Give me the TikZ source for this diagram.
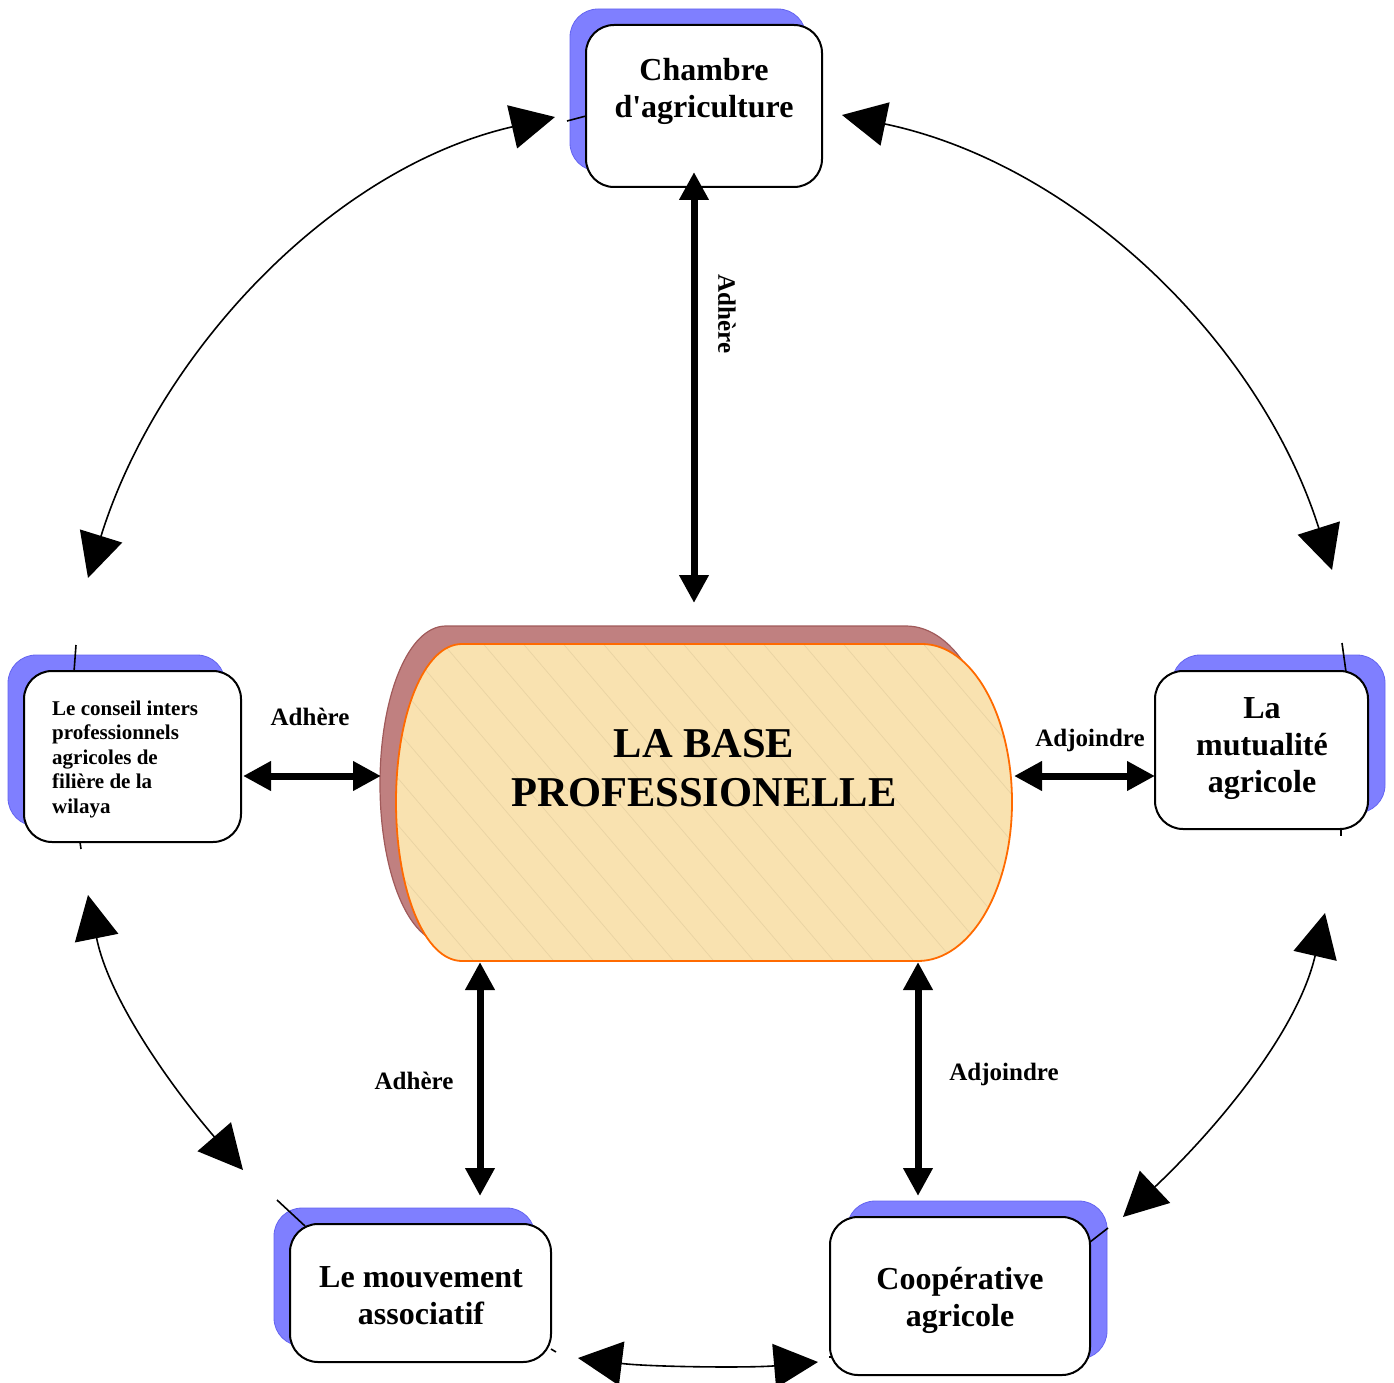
\documentclass[tikz,border=0pt]{standalone}
\usepackage{fontspec}
\setmainfont{Liberation Serif}[Ligatures=TeXOff]
\usetikzlibrary{arrows.meta}
\definecolor{shblue}{HTML}{7F7FFF}
\definecolor{shblueline}{HTML}{6464F0}
\definecolor{baseshadow}{HTML}{C08080}
\definecolor{baseshadowline}{HTML}{A05A5A}
\definecolor{basefill}{HTML}{F9E2B0}
\definecolor{baseedge}{HTML}{FF6A00}
\definecolor{hatchcol}{HTML}{E9D3A3}
\tikzset{
  shadowbox/.style={rectangle, rounded corners=28pt, fill=shblue, draw=shblueline, line width=0.8pt, inner sep=0pt},
  whitebox/.style={rectangle, rounded corners=28pt, fill=white, draw=black, line width=2pt, inner sep=0pt},
  boxtext/.style={font=\fontsize{32}{37}\selectfont\bfseries, align=center, inner sep=0pt},
  smalltext/.style={font=\fontsize{21}{24.5}\selectfont\bfseries, align=left, inner sep=0pt},
  lbl/.style={font=\fontsize{25}{30}\selectfont\bfseries, inner sep=0pt},
  thickarrow/.style={line width=7pt, {Triangle[length=28pt,width=28pt]}-{Triangle[length=28pt,width=28pt]}},
  bigtip/.tip={Triangle[length=44pt,width=44pt]},
  thinconn/.style={line width=1.6pt, bigtip-bigtip},
  stub/.style={line width=1.6pt},
}
\begin{document}
\begin{tikzpicture}[x=1pt,y=-1pt]
\useasboundingbox (0,0) rectangle (1394,1383);

% ---- box shadows
\node[shadowbox, minimum width=236pt, minimum height=162pt] (chs) at (688,90) {};
\node[shadowbox, minimum width=217pt, minimum height=171pt] (cos) at (116.5,740.5) {};
\node[shadowbox, minimum width=213pt, minimum height=158pt] (mus) at (1278.5,734) {};
\node[shadowbox, minimum width=261pt, minimum height=138pt] (mos) at (404.5,1277) {};
\node[shadowbox, minimum width=260pt, minimum height=158pt] (cps) at (977,1280) {};

% ---- stubs (connector remnants)
\coordinate (s1a) at (567,121); \coordinate (s1b) at (586,116);
\coordinate (s2a) at (76,645);  \coordinate (s2b) at (74,672);
\coordinate (s3a) at (1342,643); \coordinate (s3b) at (1346,672);
\coordinate (s4a) at (277,1200); \coordinate (s4b) at (305,1226);
\coordinate (s5a) at (1090,1242); \coordinate (s5b) at (1108,1228);
\coordinate (s6a) at (80,842); \coordinate (s6b) at (81,849);
\coordinate (s7a) at (1341,829); \coordinate (s7b) at (1341,836);
\coordinate (s8a) at (551,1349); \coordinate (s8b) at (556,1352);
\coordinate (s9a) at (829,1357); \coordinate (s9b) at (834,1357);
\foreach \s in {1,...,9} { \draw[stub] (s\s a) -- (s\s b); }

% ---- white boxes
\node[whitebox, minimum width=236pt, minimum height=162pt] (chambre) at (704,106) {};
\node[whitebox, minimum width=217pt, minimum height=171pt] (conseil) at (132.5,756.5) {};
\node[whitebox, minimum width=213pt, minimum height=158pt] (mutual) at (1261.5,750) {};
\node[whitebox, minimum width=261pt, minimum height=138pt] (mouv) at (420.5,1293) {};
\node[whitebox, minimum width=260pt, minimum height=158pt] (coop) at (960,1296) {};

% ---- box texts
\node[boxtext] (tchambre) at (704,91) {Chambre\\d'agriculture};
\node[smalltext, anchor=west] (tconseil) at (52,759) {Le conseil inters\\professionnels\\agricoles de\\filière de la\\wilaya};
\node[boxtext] (tmutual) at (1262,749) {La\\mutualité\\agricole};
\node[boxtext] (tmouv) at (421,1296) {Le mouvement\\associatif};
\node[boxtext] (tcoop) at (960,1300) {Coopérative\\agricole};

% ---- central shape
\path[fill=baseshadow, draw=baseshadowline, line width=1.2pt, shift={(-16,-18)}]
  (462,644) -- (922,644) .. controls (972,644) and (1012,715) .. (1012,802)
  .. controls (1012,890) and (970,961) .. (918,961) -- (462,961)
  .. controls (424,961) and (396,889) .. (396,802)
  .. controls (396,715) and (424,644) .. (462,644) -- cycle;
\path[fill=basefill]
  (462,644) -- (922,644) .. controls (972,644) and (1012,715) .. (1012,802)
  .. controls (1012,890) and (970,961) .. (918,961) -- (462,961)
  .. controls (424,961) and (396,889) .. (396,802)
  .. controls (396,715) and (424,644) .. (462,644) -- cycle;
\begin{scope}
  \clip (462,644) -- (922,644) .. controls (972,644) and (1012,715) .. (1012,802)
  .. controls (1012,890) and (970,961) .. (918,961) -- (462,961)
  .. controls (424,961) and (396,889) .. (396,802)
  .. controls (396,715) and (424,644) .. (462,644) -- cycle;
  \foreach \i in {0,...,30} {
    \draw[hatchcol, line width=0.7pt] (40+\i*40,640) -- (40+\i*40+290,980);
  }
\end{scope}
\path[draw=baseedge, line width=1.8pt]
  (462,644) -- (922,644) .. controls (972,644) and (1012,715) .. (1012,802)
  .. controls (1012,890) and (970,961) .. (918,961) -- (462,961)
  .. controls (424,961) and (396,889) .. (396,802)
  .. controls (396,715) and (424,644) .. (462,644) -- cycle;
\node[font=\fontsize{42.5}{49}\selectfont\bfseries, align=center, inner sep=0pt] (base) at (704,768) {LA BASE\\PROFESSIONELLE};

% ---- thick double arrows
\coordinate (a1a) at (694,172);  \coordinate (a1b) at (694,603);
\coordinate (a2a) at (243,776);  \coordinate (a2b) at (381,776);
\coordinate (a3a) at (1014,776); \coordinate (a3b) at (1155,776);
\coordinate (a4a) at (480,962);  \coordinate (a4b) at (480,1196);
\coordinate (a5a) at (918,962);  \coordinate (a5b) at (918,1196);
\draw[thickarrow] (a1a) -- (a1b);
\draw[thickarrow] (a2a) -- (a2b);
\draw[thickarrow] (a3a) -- (a3b);
\draw[thickarrow] (a4a) -- (a4b);
\draw[thickarrow] (a5a) -- (a5b);

% ---- labels
\node[lbl, rotate=-90] (l1) at (727,314) {Adhère};
\node[lbl] (l2) at (310,717) {Adhère};
\node[lbl] (l3) at (1090,740) {Adjoindre};
\node[lbl] (l4) at (414,1081) {Adhère};
\node[lbl] (l5) at (1004,1074) {Adjoindre};

% ---- curved connectors
\coordinate (c1a) at (555,117);  \coordinate (c1b) at (88,578);
\coordinate (c2a) at (842,115);  \coordinate (c2b) at (1332,570);
\coordinate (c3a) at (88,895);   \coordinate (c3b) at (243,1170);
\coordinate (c4a) at (1325,913); \coordinate (c4b) at (1123,1217);
\coordinate (c5a) at (578,1358); \coordinate (c5b) at (818,1362);
\draw[thinconn] (c1a) .. controls (329,169) and (157,356) .. (c1b);
\draw[thinconn] (c2a) .. controls (1076,164) and (1260,342) .. (c2b);
\draw[thinconn] (c3a) .. controls (109,1000) and (173,1089) .. (c3b);
\draw[thinconn] (c4a) .. controls (1297,1034) and (1213,1132) .. (c4b);
\draw[thinconn] (c5a) .. controls (650,1367) and (750,1368) .. (c5b);
\end{tikzpicture}
\end{document}
